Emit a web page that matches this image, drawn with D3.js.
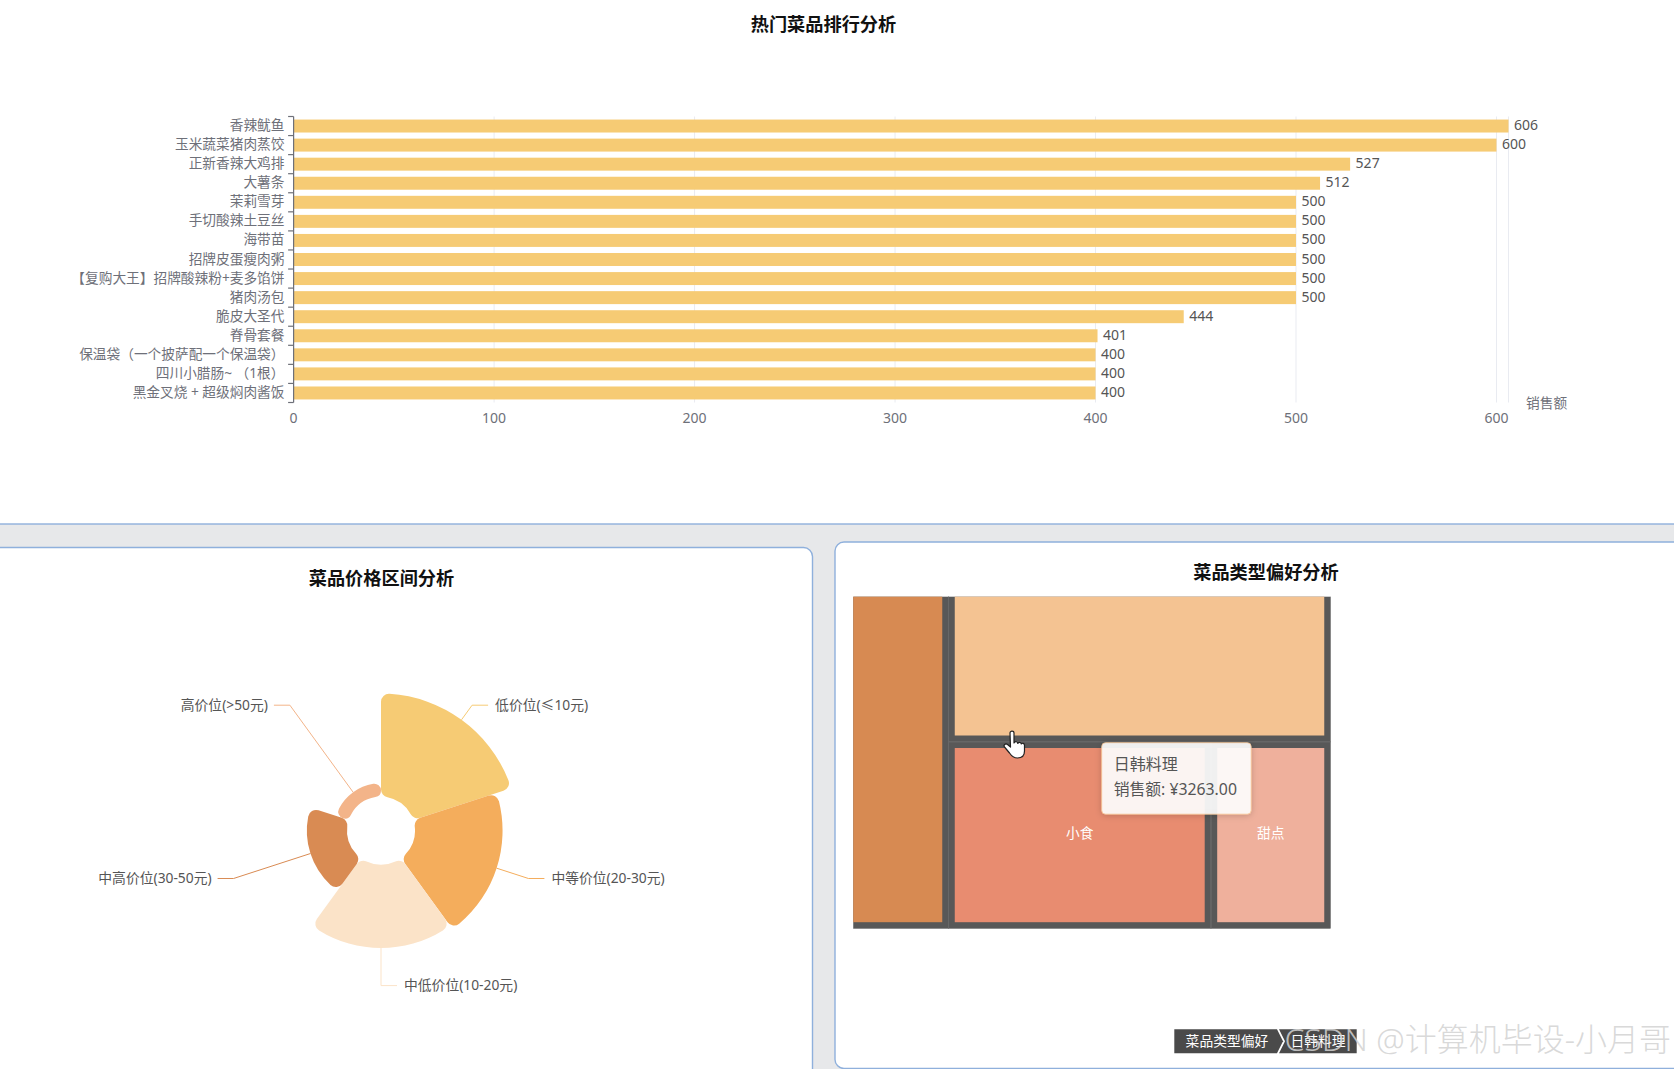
<!DOCTYPE html>
<html><head><meta charset="utf-8">
<script src="https://cdn.jsdelivr.net/npm/d3@7/dist/d3.min.js"></script>
<style>
html,body{margin:0;padding:0;background:#fff;overflow:hidden}
svg{display:block}
text{font-family:"Noto Sans","Noto Sans CJK SC",sans-serif}
</style></head><body><svg id="c" width="1674" height="1069"></svg>
<script>
const dishNames = ["香辣鱿鱼","玉米蔬菜猪肉蒸饺","正新香辣大鸡排","大薯条","茉莉雪芽","手切酸辣土豆丝","海带苗","招牌皮蛋瘦肉粥","【复购大王】招牌酸辣粉+麦多馅饼","猪肉汤包","脆皮大圣代","脊骨套餐","保温袋（一个披萨配一个保温袋）","四川小腊肠~ （1根）","黑金叉烧 + 超级焖肉酱饭"];
const dishSales = [606,600,527,512,500,500,500,500,500,500,444,401,400,400,400];
const salesTicks = [0,100,200,300,400,500,600];
const priceNames = ["低价位(≤10元)","中等价位(20-30元)","中低价位(10-20元)","中高价位(30-50元)","高价位(>50元)"];
const priceValues = [100,85,81,39,13];
const priceColors = ["#f6cb74","#f4ad5c","#fbe3c8","#d98b53","#f3b489"];
const typeNames = ["其他","日韩料理","小食","甜点"];
const typeValues = [1937,3263,2766,1260];
const typeLabelled = [false,false,true,true];
const typeColors = ["#d78a52","#f4c392","#e88c70","#efb09c"];

const svg = d3.select("#c");
const gray = "#6e7079";

// panels
svg.append("rect").attr("width",1674).attr("height",1069).attr("fill","#e7e8ea");
svg.append("rect").attr("x",-5).attr("y",-5).attr("width",1690).attr("height",529).attr("fill","#fff").attr("stroke","#8fb0dc").attr("stroke-width",1.4);
svg.append("rect").attr("x",-20).attr("y",547.5).attr("width",832.5).attr("height",600).attr("rx",9).attr("fill","#fff").attr("stroke","#8fb0dc").attr("stroke-width",1.4);
svg.append("rect").attr("x",835).attr("y",542).attr("width",900).attr("height",526.5).attr("rx",9).attr("fill","#fff").attr("stroke","#8fb0dc").attr("stroke-width",1.4);

const title = (t,x,y)=>svg.append("text").attr("x",x).attr("y",y).attr("text-anchor","middle").attr("dominant-baseline","central").attr("font-size",18.2).attr("font-weight",700).attr("fill","#111").text(t);
title("热门菜品排行分析",823.5,24);
title("菜品价格区间分析",381.5,578);
title("菜品类型偏好分析",1266,572);

// bar chart
const x = d3.scaleLinear().domain([0,d3.max(dishSales)]).range([293.6,1508.5]);
const y = d3.scaleBand().domain(dishNames).range([116.5,402.5]).paddingInner(.32).paddingOuter(.16);
const bars = svg.append("g");
bars.selectAll("line.g").data([...salesTicks,d3.max(dishSales)]).join("line").attr("class","g")
  .attr("x1",d=>x(d)).attr("x2",d=>x(d)).attr("y1",116.5).attr("y2",402.5).attr("stroke","#e9ebf1").attr("stroke-width",1);
bars.selectAll("rect").data(dishNames).join("rect").attr("x",x(0)).attr("y",d=>y(d)).attr("height",y.bandwidth())
  .attr("width",(d,i)=>x(dishSales[i])-x(0)).attr("fill","#f6cb74");
bars.append("line").attr("x1",x(0)).attr("x2",x(0)).attr("y1",116.5).attr("y2",402.5).attr("stroke",gray).attr("stroke-width",1.2);
bars.selectAll("line.t").data(d3.range(dishNames.length+1)).join("line").attr("class","t")
  .attr("x1",x(0)-5.5).attr("x2",x(0)).attr("y1",i=>116.5+i*y.step()).attr("y2",i=>116.5+i*y.step()).attr("stroke",gray).attr("stroke-width",1.2);
bars.selectAll("text.n").data(dishNames).join("text").attr("class","n").attr("x",284.5).attr("y",d=>y(d)+y.bandwidth()/2-1.5)
  .attr("text-anchor","end").attr("dominant-baseline","central").attr("font-size",13.7).attr("fill",gray).text(d=>d);
bars.selectAll("text.v").data(dishSales).join("text").attr("class","v").attr("x",d=>x(d)+5.5).attr("y",(d,i)=>y(dishNames[i])+y.bandwidth()/2-1.5)
  .attr("dominant-baseline","central").attr("font-size",14).attr("fill","#555").text(d=>d);
bars.selectAll("text.x").data(salesTicks).join("text").attr("class","x").attr("x",d=>x(d)).attr("y",417.5)
  .attr("text-anchor","middle").attr("dominant-baseline","central").attr("font-size",14).attr("fill",gray).text(d=>d);
bars.append("text").attr("x",1526).attr("y",402).attr("dominant-baseline","central").attr("font-size",13.7).attr("fill",gray).text("销售额");

// rose chart
const cx=381, cy=830.6, elbow=155, run=16;
const r = d3.scaleLinear().domain([0,d3.max(priceValues)]).range([34,137]);
const pie = d3.pie().sort(null).value(1)(priceValues);
const arc = d3.arc().innerRadius(34).cornerRadius(8);
const rose = svg.append("g").attr("transform",`translate(${cx},${cy})`);
rose.selectAll("path.s").data(pie).join("path").attr("class","s")
  .attr("d",d=>arc({...d,outerRadius:r(d.data)})).attr("fill",(d,i)=>priceColors[i]);
pie.forEach((d,i)=>{
  const a=(d.startAngle+d.endAngle)/2, s=Math.sin(a), c=-Math.cos(a);
  const side = s>1e-3?1:(s<-1e-3?-1:1);
  const R=r(d.data);
  const ex=s*elbow, ey=c*elbow;
  rose.append("path").attr("fill","none").attr("stroke",priceColors[i]).attr("stroke-width",1)
    .attr("d",d3.line()([[s*R,c*R],[ex,ey],[ex+side*run,ey]]));
  rose.append("text").attr("x",ex+side*(run+(side>0?7:6))).attr("y",ey-1).attr("text-anchor",side>0?"start":"end")
    .attr("dominant-baseline","central").attr("font-size",13.8).attr("fill","#555").text(priceNames[i]);
});

// treemap
const tx=853.25, ty=596.7, tw=471, th=325.5, gap=12.5;
const treeData = {children:[{i:0,value:typeValues[0]},
  {children:[{i:1,value:typeValues[1]},{children:[{i:2,value:typeValues[2]},{i:3,value:typeValues[3]}]}]}]};
const tile=(n,a,b,c,e)=>(n.depth===1?d3.treemapSlice:d3.treemapDice)(n,a,b,c,e);
const rootT = d3.treemap().size([tw,th]).paddingInner(gap).tile(tile)(d3.hierarchy(treeData).sum(d=>d.value||0));
const tree = svg.append("g").attr("transform",`translate(${tx},${ty})`);
tree.append("rect").attr("width",tw+gap/2).attr("height",th+gap/2).attr("fill","#585858");
const clip=svg.append("clipPath").attr("id","tc").append("rect").attr("width",tw+gap/2).attr("height",th+gap/2);
tree.append("g").attr("clip-path","url(#tc)").selectAll("rect").data(rootT.leaves()).join("rect")
  .attr("x",d=>d.x0-gap/2).attr("y",d=>d.y0-gap/2).attr("width",d=>d.x1-d.x0+gap).attr("height",d=>d.y1-d.y0+gap)
  .attr("fill","none").attr("stroke","#686868").attr("stroke-width",1);
tree.selectAll("rect.l").data(rootT.leaves()).join("rect").attr("class","l")
  .attr("x",d=>d.x0).attr("y",d=>d.y0).attr("width",d=>d.x1-d.x0).attr("height",d=>d.y1-d.y0).attr("fill",d=>typeColors[d.data.i]);
tree.selectAll("text").data(rootT.leaves().filter(d=>typeLabelled[d.data.i])).join("text")
  .attr("x",d=>(d.x0+d.x1)/2).attr("y",d=>(d.y0+d.y1)/2-2.5).attr("text-anchor","middle").attr("dominant-baseline","central")
  .attr("font-size",13.7).attr("fill","#fff").text(d=>typeNames[d.data.i]);

// tooltip
const defs=svg.append("defs");
const f=defs.append("filter").attr("id","sh").attr("x","-20%").attr("y","-20%").attr("width","140%").attr("height","140%");
f.append("feDropShadow").attr("dx",0).attr("dy",1).attr("stdDeviation",3).attr("flood-color","#000").attr("flood-opacity",.2);
const tip=svg.append("g").attr("transform","translate(1101.7,742.7)");
tip.append("rect").attr("width",149.5).attr("height",71.5).attr("rx",4).attr("fill","#fff").attr("fill-opacity",.9).attr("stroke","#f4c392").attr("stroke-width",.8).attr("filter","url(#sh)");
tip.append("text").attr("x",12).attr("y",21.5).attr("dominant-baseline","central").attr("font-size",16).attr("fill","#555").text(typeNames[1]);
tip.append("text").attr("x",12).attr("y",46).attr("dominant-baseline","central").attr("font-size",15.8).attr("fill","#555").text("销售额: ¥"+typeValues[1].toFixed(2));

// pointer
svg.append("path").attr("transform","translate(1004,731)").attr("fill","#fff").attr("stroke","#222").attr("stroke-width",1.2).attr("stroke-linejoin","round")
  .attr("d","M6 2c0-2.5 4-2.5 4 0v10c1-2 3.5-1.5 3.8.4 .8-1.6 3.2-1.2 3.5.6 .9-1.3 3-.8 3.2 1v6c0 4-2 7-7 7-4 0-6-2-8-5l-5-6c-1.5-2 1-4 3-2.5l3 2.5z");

// breadcrumb
const crumbs=[["菜品类型偏好"],[typeNames[1]]];
const bc=svg.append("g");
bc.append("path").attr("fill","#4a4a4a").attr("d","M1174.3 1029.3H1277l6 12-6 12H1174.3z");
bc.append("path").attr("fill","#4a4a4a").attr("d","M1279 1029.3H1356.7V1053.3H1279l6-12z");
bc.append("text").attr("x",1227).attr("y",1040).attr("text-anchor","middle").attr("dominant-baseline","central").attr("font-size",13.8).attr("fill","#fff").text(crumbs[0][0]);
bc.append("text").attr("x",1318).attr("y",1040).attr("text-anchor","middle").attr("dominant-baseline","central").attr("font-size",13.8).attr("fill","#fff").text(crumbs[1][0]);

// watermark
svg.append("text").attr("x",1671).attr("y",1038).attr("text-anchor","end").attr("dominant-baseline","central").attr("font-size",32)
  .attr("fill","#d2d2d2").attr("fill-opacity",.85).style("font-weight",300).text("CSDN @计算机毕设-小月哥");
</script></body></html>
